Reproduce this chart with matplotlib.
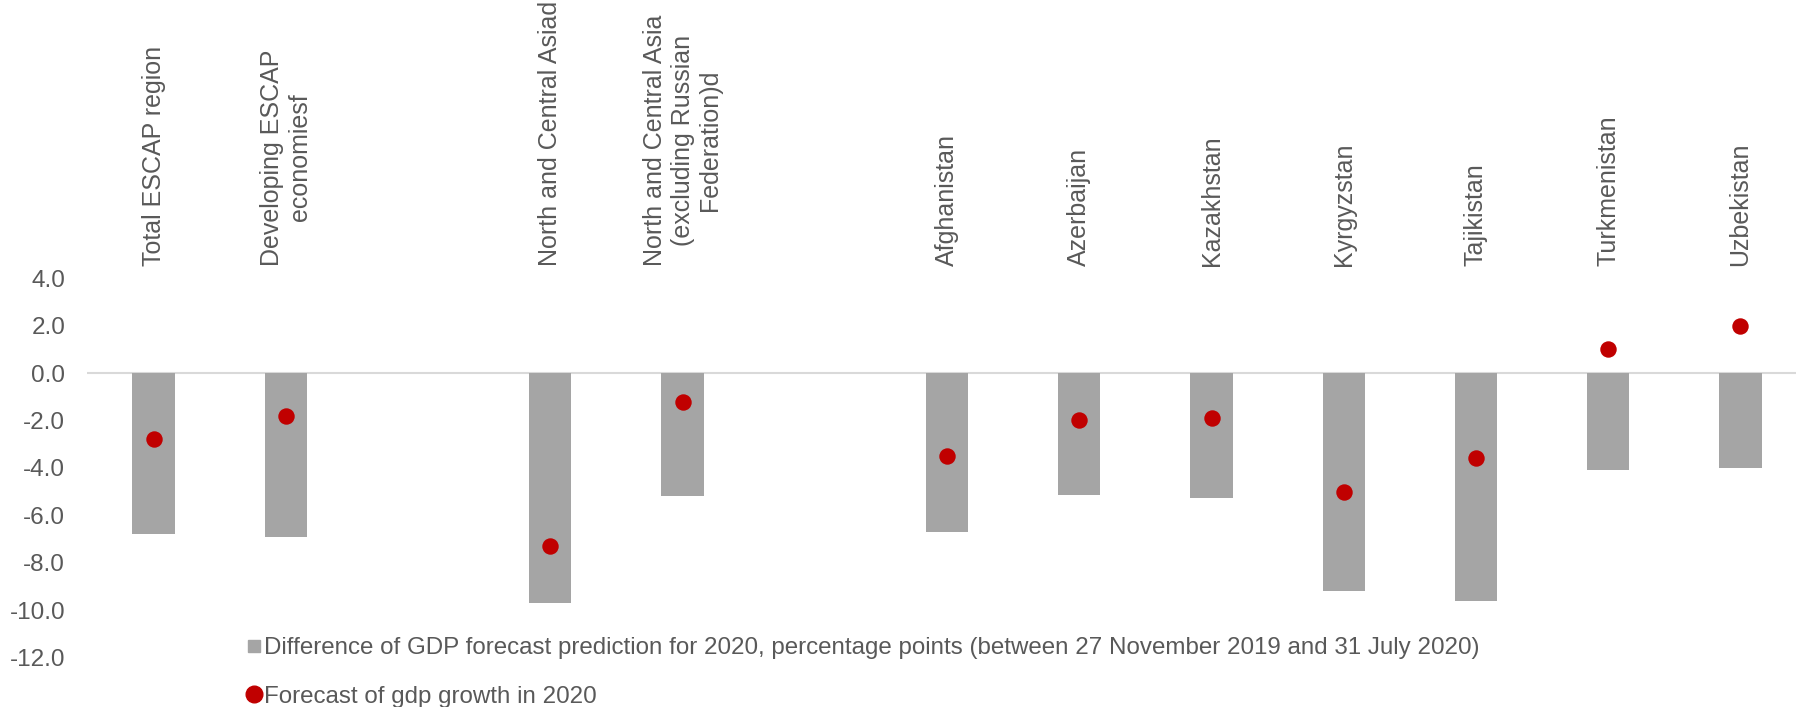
import matplotlib
matplotlib.use("Agg")
import matplotlib.pyplot as plt
from matplotlib.lines import Line2D
import numpy as np

plt.rcParams['font.family'] = ['Liberation Sans', 'DejaVu Sans']
plt.rcParams['axes.unicode_minus'] = False

# empty strings / nan mark the gaps between groups
categories = ["Total ESCAP region", "Developing ESCAP\neconomiesf", "",
              "North and Central Asiad",
              "North and Central Asia\n(excluding Russian\nFederation)d", "",
              "Afghanistan", "Azerbaijan", "Kazakhstan", "Kyrgyzstan",
              "Tajikistan", "Turkmenistan", "Uzbekistan"]
diff_values = [-6.8, -6.9, np.nan, -9.7, -5.2, np.nan,
               -6.7, -5.15, -5.25, -9.2, -9.6, -4.1, -4.0]
forecast_values = [-2.8, -1.8, np.nan, -7.3, -1.2, np.nan,
                   -3.5, -2.0, -1.9, -5.0, -3.6, 1.0, 2.0]
yticks = [4.0, 2.0, 0.0, -2.0, -4.0, -6.0, -8.0, -10.0, -12.0]

label_diff = ("Difference of GDP forecast prediction for 2020, percentage points "
              "(between 27 November 2019 and 31 July 2020)")
label_forecast = "Forecast of gdp growth in 2020"

text_col = '#595959'
bar_col = '#A5A5A5'
dot_col = '#C00000'

fig = plt.figure(figsize=(17.96, 7.07), dpi=100)
ax = fig.add_axes([0.0487, 0.070, 0.9513, 0.5364])

x = np.arange(len(categories))
ax.axhline(0, color='#D9D9D9', lw=1.5, zorder=1)
ax.bar(x, diff_values, width=0.32, color=bar_col, zorder=2)
ax.scatter(x, forecast_values, s=140, color=dot_col, zorder=3, linewidths=0)

ax.set_xlim(-0.5, 12.42)
ax.set_ylim(-12, 4)
ax.set_yticks(yticks)
ax.set_yticklabels(["%.1f" % v for v in yticks])

ax.xaxis.tick_top()
ax.set_xticks(x)
ax.set_xticklabels(categories, rotation=90, ha='center', va='bottom',
                   multialignment='center')
ax.tick_params(axis='x', length=0, pad=9, labelsize=18, colors=text_col)
ax.tick_params(axis='y', length=0, pad=16, labelsize=17.5, colors=text_col)
for s in ax.spines.values():
    s.set_visible(False)

handles = [Line2D([], [], marker='s', ls='none', color=bar_col, markersize=9),
           Line2D([], [], marker='o', ls='none', color=dot_col, markersize=12)]
fig.legend(handles, [label_diff, label_forecast], loc='center left',
           bbox_to_anchor=(0.1375, 0.049), frameon=False, fontsize=17.4,
           labelcolor=text_col, handlelength=0.6, handletextpad=0.1,
           labelspacing=1.1, borderaxespad=0, borderpad=0)

fig.savefig("out.png", dpi=100)
